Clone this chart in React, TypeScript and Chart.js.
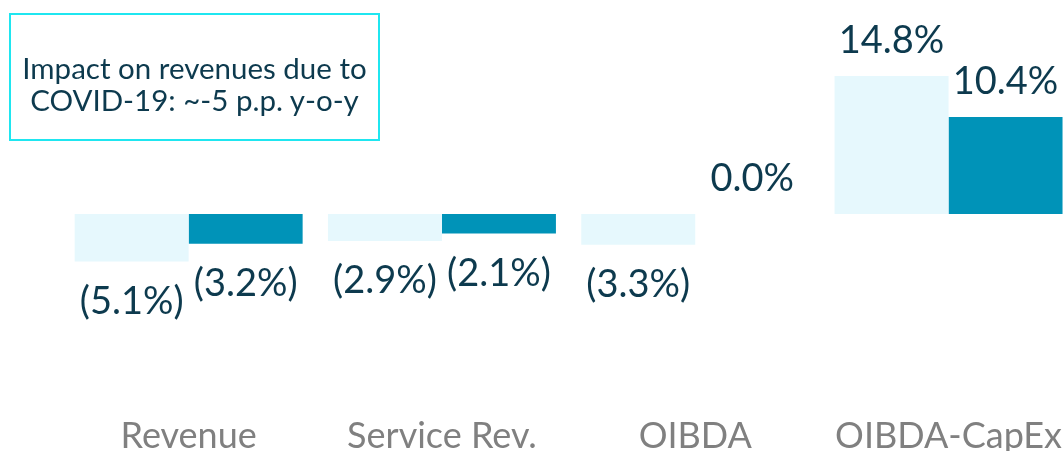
import React, { useEffect, useRef } from "react";
import { Chart, registerables } from "chart.js";

Chart.register(...registerables);

const categories = ["Revenue", "Service Rev.", "OIBDA", "OIBDA-CapEx"];
const seriesA = [-5.1, -2.9, -3.3, 14.8];
const seriesB = [-3.2, -2.1, 0.0, 10.4];
const noteText = ["Impact on revenues due to", "COVID-19: ~-5 p.p. y-o-y"];

const fmt = (v: number) => (v < 0 ? `(${Math.abs(v).toFixed(1)}%)` : `${v.toFixed(1)}%`);

const labelPlugin = {
  id: "barLabels",
  afterDatasetsDraw(chart: any) {
    const ctx = chart.ctx;
    ctx.save();
    ctx.font = "38px Lato";
    ctx.fillStyle = "#0d3a4e";
    ctx.textAlign = "center";
    ctx.textBaseline = "middle";
    chart.data.datasets.forEach((ds: any, di: number) => {
      const meta = chart.getDatasetMeta(di);
      meta.data.forEach((bar: any, i: number) => {
        const v = ds.data[i];
        const y = v < 0 ? bar.y + 40 : bar.y - 35;
        ctx.fillText(fmt(v), bar.x, y);
      });
    });
    ctx.restore();
  },
};

export default function App() {
  const ref = useRef<HTMLCanvasElement>(null);
  useEffect(() => {
    document.body.style.overflow = "hidden";
    const chart = new Chart(ref.current!, {
      type: "bar",
      data: {
        labels: categories,
        datasets: [
          { data: seriesA, backgroundColor: "#e6f8fd", categoryPercentage: 0.9, barPercentage: 1.0 },
          { data: seriesB, backgroundColor: "#0093b8", categoryPercentage: 0.9, barPercentage: 1.0 },
        ],
      },
      options: {
        responsive: false,
        animation: false,
        layout: { padding: { top: 27.6, left: 62, right: 0, bottom: 0 } },
        plugins: { legend: { display: false }, tooltip: { enabled: false } },
        scales: {
          x: {
            grid: { display: false, drawTicks: false },
            border: { display: false },
            ticks: { color: "#808080", font: { family: "Lato", size: 36 }, padding: 14, maxRotation: 0, autoSkip: false },
            afterFit: (scale: any) => {
              scale.height = 52.6;
            },
          },
          y: { display: false, min: -20, max: 20 },
        },
      },
      plugins: [labelPlugin],
    });
    return () => chart.destroy();
  }, []);
  return (
    <div style={{ position: "fixed", left: 0, top: 0, width: 1076, height: 453 }}>
      <canvas ref={ref} width={1076} height={453} style={{ display: "block" }} />
      <div
        style={{
          position: "absolute",
          left: 9,
          top: 13,
          width: 367,
          height: 124,
          boxSizing: "content-box",
          border: "2px solid #1fe6f0",
          display: "flex",
          flexDirection: "column",
          alignItems: "center",
          justifyContent: "center",
          paddingTop: 0,
          fontFamily: "Lato",
          fontSize: 29.5,
          lineHeight: "32px",
          color: "#0d3a4e",
          textAlign: "center",
          whiteSpace: "nowrap",
        }}
      >
        <div style={{ position: "relative", top: 7 }}>
          {noteText.map((t) => (
            <div key={t}>{t}</div>
          ))}
        </div>
      </div>
    </div>
  );
}
